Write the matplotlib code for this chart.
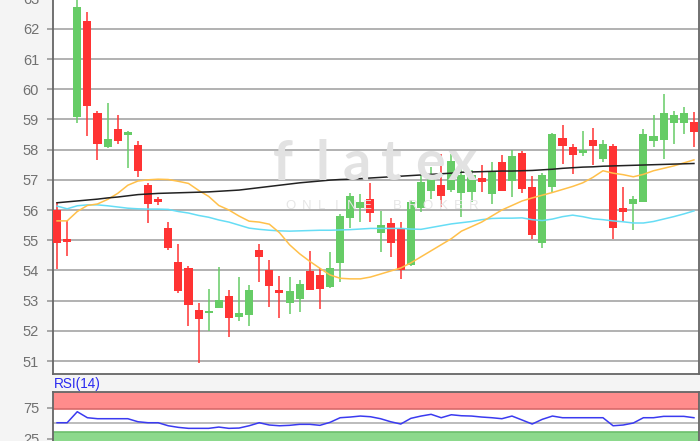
import matplotlib
matplotlib.use('Agg')
import matplotlib.pyplot as plt
import numpy as np

# ---------------- data ----------------
opens  = [56.00, 55.05, 59.07, 62.26, 59.22, 58.08, 58.67, 58.47, 58.15, 56.83,
          56.38, 55.39, 54.28, 54.07, 52.69, 52.58, 52.76, 53.16, 52.47, 52.53,
          54.67, 54.01, 53.35, 52.93, 53.04, 53.98, 53.84, 53.44, 54.23, 55.73,
          56.05, 56.35, 55.25, 55.58, 55.36, 54.18, 56.05, 56.64, 56.82, 56.66,
          56.55, 56.60, 57.07, 56.53, 57.60, 56.97, 57.90, 56.75, 54.91, 56.75,
          58.40, 58.07, 57.89, 58.31, 57.68, 58.12, 56.05, 56.19, 56.27, 58.29,
          58.33, 58.87, 58.87, 58.92]
closes = [54.90, 54.95, 62.71, 59.45, 58.17, 58.34, 58.30, 58.58, 57.30, 56.20,
          56.28, 54.73, 53.32, 52.85, 52.39, 52.65, 53.02, 52.43, 52.60, 53.35,
          54.43, 53.48, 53.24, 53.32, 53.55, 53.36, 53.37, 54.07, 55.80, 56.48,
          56.28, 55.89, 55.50, 54.91, 54.01, 56.27, 56.94, 57.19, 56.46, 57.63,
          57.16, 57.16, 56.94, 57.27, 56.64, 57.78, 56.71, 55.17, 57.16, 58.51,
          58.13, 57.82, 58.00, 58.12, 58.18, 55.42, 55.94, 56.38, 58.51, 58.45,
          59.20, 59.14, 59.20, 58.59]
highs  = [56.25, 55.65, 63.30, 62.56, 59.28, 59.53, 59.14, 58.62, 58.29, 56.88,
          56.43, 55.61, 54.89, 54.14, 52.91, 53.37, 54.12, 53.35, 53.78, 53.51,
          54.89, 54.36, 53.81, 53.77, 53.68, 54.65, 54.07, 54.62, 55.86, 56.57,
          56.52, 56.88, 55.96, 55.75, 55.61, 56.33, 57.19, 57.43, 57.87, 57.87,
          57.60, 57.32, 57.49, 57.60, 57.82, 58.00, 57.96, 57.12, 57.21, 58.56,
          58.81, 58.18, 58.60, 58.70, 58.31, 58.18, 56.75, 56.46, 58.67, 59.14,
          59.84, 59.29, 59.42, 59.25]
lows   = [54.05, 54.47, 58.89, 58.46, 57.65, 58.04, 58.20, 57.38, 57.10, 55.58,
          56.18, 54.66, 53.24, 52.16, 50.95, 52.00, 52.74, 51.80, 52.33, 52.15,
          53.62, 52.79, 52.41, 52.55, 52.63, 53.35, 52.71, 53.42, 53.62, 55.39,
          55.61, 55.61, 54.62, 54.45, 53.70, 54.14, 55.94, 56.38, 56.11, 56.60,
          55.78, 56.27, 56.60, 56.19, 56.62, 56.44, 56.55, 55.03, 54.73, 56.60,
          57.52, 57.19, 57.78, 57.49, 57.60, 55.03, 55.64, 55.33, 56.25, 58.10,
          57.68, 58.20, 58.51, 58.07]

ma_long  = [56.24, 56.27, 56.30, 56.33, 56.36, 56.40, 56.43, 56.47, 56.51, 56.53,
            56.55, 56.56, 56.57, 56.58, 56.59, 56.60, 56.62, 56.64, 56.66, 56.70,
            56.74, 56.78, 56.82, 56.86, 56.90, 56.93, 56.96, 56.99, 57.01, 57.02,
            57.04, 57.06, 57.08, 57.10, 57.12, 57.14, 57.16, 57.18, 57.20, 57.22,
            57.25, 57.26, 57.27, 57.28, 57.29, 57.29, 57.30, 57.31, 57.33, 57.35,
            57.38, 57.40, 57.42, 57.43, 57.45, 57.46, 57.47, 57.48, 57.49, 57.50,
            57.51, 57.52, 57.53, 57.54]
ma_mid   = [56.13, 56.04, 56.14, 56.17, 56.17, 56.14, 56.10, 56.06, 56.04, 56.03,
            56.03, 56.02, 55.95, 55.90, 55.82, 55.76, 55.67, 55.60, 55.50, 55.40,
            55.36, 55.33, 55.31, 55.30, 55.31, 55.32, 55.33, 55.33, 55.34, 55.35,
            55.37, 55.39, 55.39, 55.39, 55.39, 55.37, 55.36, 55.42, 55.48, 55.54,
            55.58, 55.62, 55.68, 55.72, 55.73, 55.73, 55.74, 55.68, 55.65, 55.70,
            55.78, 55.83, 55.78, 55.71, 55.68, 55.64, 55.61, 55.57, 55.57, 55.62,
            55.70, 55.78, 55.87, 55.97]
ma_short = [55.64, 55.64, 55.95, 56.15, 56.20, 56.35, 56.55, 56.82, 56.96, 57.00,
            57.02, 57.01, 56.95, 56.88, 56.65, 56.45, 56.15, 56.00, 55.80, 55.63,
            55.60, 55.53, 55.25, 54.85, 54.55, 54.30, 54.07, 53.85, 53.74, 53.72,
            53.72, 53.78, 53.88, 53.98, 54.08, 54.25, 54.45, 54.65, 54.85, 55.05,
            55.30, 55.45, 55.60, 55.80, 56.00, 56.15, 56.30, 56.40, 56.49, 56.58,
            56.68, 56.78, 56.90, 57.08, 57.30, 57.22, 57.17, 57.10, 57.18, 57.30,
            57.38, 57.46, 57.56, 57.66]
rsi = [50.9, 50.9, 68.7, 59.0, 57.4, 57.4, 57.4, 57.4, 52.5, 50.9,
       50.9, 46.0, 43.4, 41.8, 41.8, 41.8, 43.9, 41.8, 42.3, 46.0,
       50.9, 47.2, 46.0, 46.7, 48.3, 48.3, 46.7, 51.5, 59.0, 60.1,
       61.7, 60.6, 57.4, 52.5, 48.8, 58.0, 61.7, 64.5, 59.0, 63.8,
       62.2, 61.7, 60.1, 59.0, 57.4, 61.7, 55.3, 48.8, 56.4, 61.7,
       59.0, 59.0, 59.0, 59.0, 59.0, 46.0, 47.2, 50.4, 59.0, 59.0,
       61.2, 61.2, 61.2, 59.0]
price_ticks = list(range(51, 64))
rsi_ticks = [25, 75]
rsi_label = "RSI(14)"

# ---------------- styling ----------------
W, H = 700, 441
BG = '#f4f4f4'
UP = '#66cc66'
DOWN = '#ff3333'
TICK_C = '#707070'
FONT = ['Liberation Sans', 'DejaVu Sans']
plt.rcParams['font.family'] = FONT

fig = plt.figure(figsize=(W / 100, H / 100), dpi=100, facecolor=BG)


def px_axes(left, top, right, bottom):
    return fig.add_axes([left / W, 1 - bottom / H, (right - left) / W, (bottom - top) / H])


# ---------------- main price panel ----------------
ax = px_axes(53, -16.5, 699, 374)
ax.set_facecolor('white')
ax.set_xlim(-0.4, 63.5)
ax.set_ylim(50.57, 63.5)

x = np.arange(len(opens))
o = np.array(opens); c = np.array(closes)
hi = np.array(highs); lo = np.array(lows)
up = c >= o
cols = np.where(up, UP, DOWN)
body_lo = np.minimum(o, c)
body_h = np.maximum(np.abs(c - o), 0.06)

ax.vlines(x, lo, hi, colors=cols, linewidth=1.1, zorder=3)
ax.bar(x, body_h, bottom=body_lo, width=0.8, color=cols, linewidth=0, zorder=4)

ax.plot(x, ma_mid, color='#66ddf5', lw=1.1, zorder=5)
ax.plot(x, ma_short, color='#ffc04a', lw=1.1, zorder=5)
ax.plot(x, ma_long, color='#222222', lw=1.1, zorder=6)

ax.set_yticks(price_ticks)
ax.set_yticklabels([str(t) for t in price_ticks])
ax.yaxis.grid(True, color='#ababab', lw=1.3, zorder=1)
ax.set_axisbelow(True)
ax.set_xticks([])
ax.tick_params(axis='y', colors='#999999', labelcolor=TICK_C, labelsize=10.5,
               length=4, width=1.2, pad=6)
for s in ['top']:
    ax.spines[s].set_visible(False)
for s in ['left', 'bottom', 'right']:
    ax.spines[s].set_color('#666666')
    ax.spines[s].set_linewidth(1.3)

# watermark
wm_letters = 'flatex'
wm_x = [283, 322, 357, 391, 430, 462]
for ch, xp in zip(wm_letters, wm_x):
    fig.text(xp / W, 1 - 180 / H, ch, ha='center', va='baseline', fontsize=40,
             fontweight='bold', color='#e2e2e2', family=['Lato', 'DejaVu Sans'],
             zorder=0.5)
sub = 'ONLINE BROKER'
for k, ch in enumerate(sub):
    fig.text((291 + k * 15.2) / W, 1 - 206 / H, ch, ha='center', va='center',
             fontsize=9.5, color='#e6e6e6', zorder=0.5)

# ---------------- RSI panel ----------------
rax = px_axes(53, 392, 699, 454.2)
rax.set_facecolor('white')
rax.set_xlim(-0.4, 63.5)
rax.set_ylim(0, 100.6)
rax.axhspan(72.6, 100.6, facecolor='#ff8c8c', edgecolor='none', zorder=1)
rax.axhline(72.6, color='#d86a6a', lw=1.2, zorder=1.5)
rax.axhspan(0, 36.3, facecolor='#8cd98c', edgecolor='none', zorder=1)
rax.axhline(36.3, color='#6cbf6c', lw=1.2, zorder=1.5)
rax.axhline(50, color='#b0b0b0', lw=1.2, zorder=1.5)
rax.plot(x, rsi, color='#3a3af0', lw=1.1, zorder=3)
rax.set_yticks(rsi_ticks)
rax.set_yticklabels([str(t) for t in rsi_ticks])
rax.set_xticks([])
rax.tick_params(axis='y', colors='#999999', labelcolor=TICK_C, labelsize=10.5,
                length=4, width=1.2, pad=6)
for s in ['left', 'top', 'right', 'bottom']:
    rax.spines[s].set_color('#666666')
    rax.spines[s].set_linewidth(1.3)

fig.text(53.5 / W, 1 - 384 / H, rsi_label, ha='left', va='center', fontsize=9.8,
         color='#2a2af0')

fig.savefig('out.png', dpi=100, facecolor=BG)
